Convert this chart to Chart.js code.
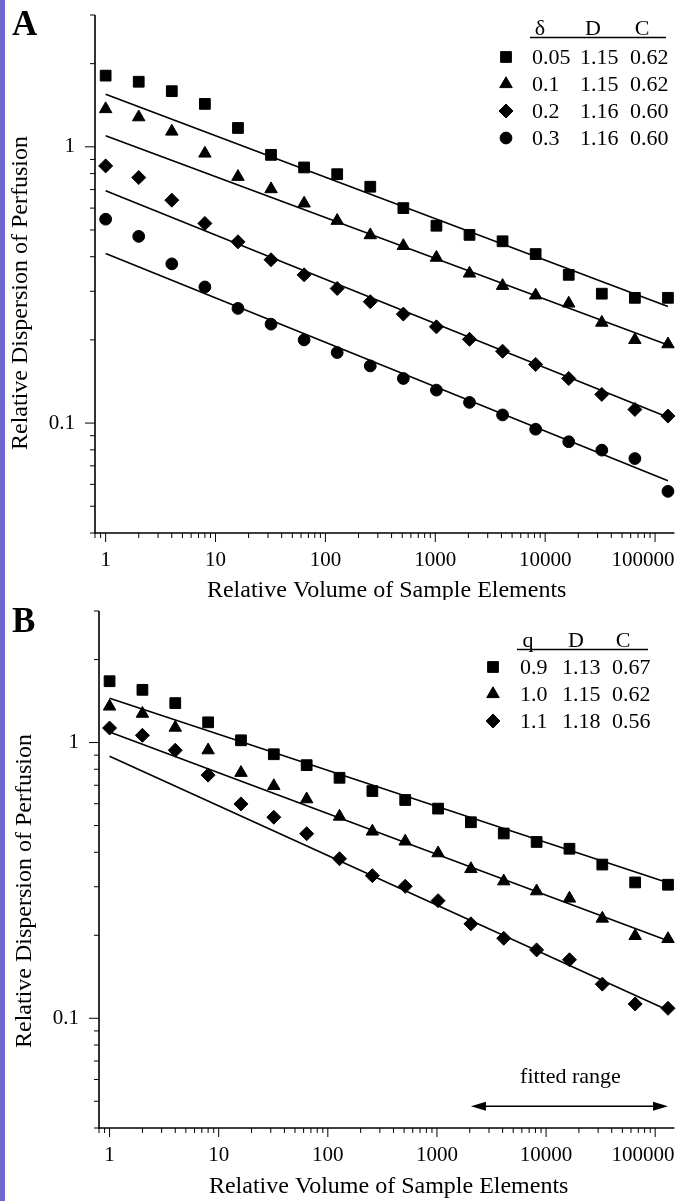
<!DOCTYPE html>
<html>
<head>
<meta charset="utf-8">
<title>Relative dispersion vs. sample volume</title>
<script src="https://cdn.jsdelivr.net/npm/chart.js@4.4.1/dist/chart.umd.min.js"></script>
<style>
  html, body { margin: 0; padding: 0; background: #fff; }
  #page { position: relative; width: 683px; height: 1201px; overflow: hidden; background: #fff; }
  #strip { position: absolute; left: 0; top: 0; width: 5px; height: 1201px; background: #6c68cf; }
  .panel { position: absolute; left: 0; width: 683px; }
  #wrapA { top: 0; height: 600px; }
  #wrapB { top: 600px; height: 601px; }
  canvas { display: block; }
</style>
</head>
<body>
<div id="page">
  <div class="panel" id="wrapA"><canvas id="chartA" width="683" height="600"></canvas></div>
  <div class="panel" id="wrapB"><canvas id="chartB" width="683" height="601"></canvas></div>
  <div id="strip"></div>
</div>
<script>
// ─── data ──────────────────────────────────────────────────────────────────
const volumes = [1, 2, 4, 8, 16, 32, 64, 128, 256, 512, 1024, 2048, 4096, 8192, 16384, 32768, 65536, 131072];

// panel A : δ = 0.05 / 0.1 / 0.2 / 0.3
const aSquare   = [1.81, 1.72, 1.59, 1.43, 1.17, 0.935, 0.842, 0.796, 0.717, 0.600, 0.518, 0.480, 0.455, 0.409, 0.344, 0.294, 0.284, 0.284];
const aTriangle = [1.37, 1.28, 1.136, 0.946, 0.779, 0.703, 0.624, 0.540, 0.479, 0.438, 0.397, 0.348, 0.314, 0.290, 0.271, 0.231, 0.200, 0.193];
const aDiamond  = [0.853, 0.774, 0.641, 0.528, 0.453, 0.390, 0.344, 0.307, 0.275, 0.248, 0.223, 0.201, 0.182, 0.163, 0.145, 0.127, 0.112, 0.106];
const aCircle   = [0.547, 0.474, 0.377, 0.311, 0.260, 0.228, 0.200, 0.180, 0.161, 0.145, 0.1316, 0.1188, 0.107, 0.095, 0.0856, 0.0798, 0.0744, 0.0566];
const aFitStart = [1.55, 1.096, 0.693, 0.411];
const aFitEnd   = [0.264, 0.1915, 0.105, 0.0618];

// panel B : q = 0.9 / 1.0 / 1.1
const bSquare   = [1.669, 1.553, 1.39, 1.184, 1.019, 0.907, 0.828, 0.745, 0.667, 0.619, 0.576, 0.514, 0.468, 0.436, 0.412, 0.361, 0.311, 0.305];
const bTriangle = [1.352, 1.273, 1.133, 0.938, 0.777, 0.696, 0.623, 0.539, 0.476, 0.438, 0.397, 0.348, 0.314, 0.289, 0.272, 0.230, 0.199, 0.194];
const bDiamond  = [1.129, 1.062, 0.938, 0.762, 0.599, 0.536, 0.467, 0.379, 0.329, 0.301, 0.267, 0.220, 0.195, 0.177, 0.163, 0.133, 0.1127, 0.1087];
const bFitStart = [1.449, 1.092, 0.892];
const bFitEnd   = [0.310, 0.191, 0.107];

const fitSpan = [1, 131072];
const fittedRange = [2048, 131072];
const fittedRangeLevel = 0.048;

const xRange = [0.8, 150000];
const yRange = [0.04, 3];
const xMajorTicks = [1, 10, 100, 1000, 10000, 100000];
const yMajorTicks = [0.1, 1];

const tableAHead = ['δ', 'D', 'C'];
const tableARows = [['0.05', '1.15', '0.62'], ['0.1', '1.15', '0.62'], ['0.2', '1.16', '0.60'], ['0.3', '1.16', '0.60']];
const tableBHead = ['q', 'D', 'C'];
const tableBRows = [['0.9', '1.13', '0.67'], ['1.0', '1.15', '0.62'], ['1.1', '1.18', '0.56']];

const xTitle = 'Relative Volume of Sample Elements';
const yTitle = 'Relative Dispersion of Perfusion';

// ─── styling ───────────────────────────────────────────────────────────────
const INK = '#000';
const SERIF = '"Liberation Serif", "Times New Roman", serif';
const MARK = {
  rect:     { pointStyle: 'rect',     radius: 7.6 },
  triangle: { pointStyle: 'triangle', radius: 7.2 },
  rectRot:  { pointStyle: 'rectRot',  radius: 7.0 },
  circle:   { pointStyle: 'circle',   radius: 5.9 },
};

Chart.defaults.font.family = SERIF;
Chart.defaults.color = INK;

// log ticks 1..9 × 10^k within a range
function logTicks(range, majors) {
  const out = [];
  const e0 = Math.floor(Math.log10(range[0]));
  const e1 = Math.ceil(Math.log10(range[1]));
  for (let e = e0; e <= e1; e++) {
    for (let m = 1; m <= 9; m++) {
      const v = parseFloat((m * Math.pow(10, e)).toPrecision(6));
      if (v >= range[0] - 1e-12 && v <= range[1] + 1e-9) out.push({ value: v, major: majors.includes(v) });
    }
  }
  return out;
}

function pointSet(values, mark) {
  return {
    type: 'scatter',
    data: volumes.map((v, i) => ({ x: v, y: values[i] })),
    pointStyle: mark.pointStyle,
    pointRadius: mark.radius,
    pointHoverRadius: mark.radius,
    backgroundColor: INK,
    borderColor: INK,
    borderWidth: 1,
    showLine: false,
    clip: false,
    order: 1,
  };
}

function fitSet(y0, y1) {
  return {
    type: 'line',
    data: [{ x: fitSpan[0], y: y0 }, { x: fitSpan[1], y: y1 }],
    borderColor: INK,
    borderWidth: 1.6,
    pointRadius: 0,
    fill: false,
    tension: 0,
    order: 2,
  };
}

function line(ctx, x0, y0, x1, y1) {
  ctx.beginPath(); ctx.moveTo(x0, y0); ctx.lineTo(x1, y1); ctx.stroke();
}

// axis lines, tick marks, titles, panel letter, parameter table, fitted-range arrow
function makeDecor(L) {
  return {
    id: 'decor',
    beforeDraw(chart) {
      const xs = chart.scales.x;
      const items = xs.getLabelItems(chart.chartArea);
      items.forEach(it => {
        if (it.label === '100000') {
          it.options.textAlign = 'right';
          it.options.translation[0] = xs.right;
        }
      });
    },
    afterDraw(chart) {
      const ctx = chart.ctx, a = chart.chartArea;
      const xs = chart.scales.x, ys = chart.scales.y;
      ctx.save();
      ctx.strokeStyle = INK; ctx.fillStyle = INK;

      ctx.lineWidth = 1.6;
      ctx.beginPath();
      ctx.moveTo(a.left, a.top); ctx.lineTo(a.left, a.bottom); ctx.lineTo(a.right, a.bottom);
      ctx.stroke();

      ctx.lineWidth = 1;
      xs.ticks.forEach(t => {
        const p = xs.getPixelForValue(t.value);
        line(ctx, p, a.bottom, p, a.bottom + (t.major ? 9 : 5));
      });
      ys.ticks.forEach(t => {
        const p = ys.getPixelForValue(t.value);
        line(ctx, a.left, p, a.left - (t.major ? 10 : 5), p);
      });

      ctx.textBaseline = 'alphabetic';
      ctx.font = 'bold 35px ' + SERIF;
      ctx.textAlign = 'left';
      ctx.fillText(L.letter, L.letterX, L.letterY);

      ctx.font = '24px ' + SERIF;
      ctx.textAlign = 'center';
      ctx.fillText(xTitle, (a.left + a.right) / 2 + 2, L.xTitleY);
      ctx.save();
      ctx.translate(L.yTitleX, L.yTitleY);
      ctx.rotate(-Math.PI / 2);
      ctx.fillText(yTitle, 0, 0);
      ctx.restore();

      // parameter table
      const T = L.table;
      ctx.font = '22px ' + SERIF;
      ctx.textAlign = 'center';
      T.head.forEach((h, i) => ctx.fillText(h, T.headX[i], T.headY));
      ctx.lineWidth = 1.5;
      line(ctx, T.lineX0, T.lineY, T.lineX1, T.lineY);
      ctx.textAlign = 'left';
      T.rows.forEach((row, r) => {
        row.forEach((txt, c) => ctx.fillText(txt, T.colX[c], T.rowY[r]));
        const m = T.marks[r];
        ctx.lineWidth = 1;
        Chart.helpers.drawPoint(ctx, { pointStyle: m.pointStyle, radius: m.radius, rotation: 0, borderWidth: 1 },
          T.markX, T.rowY[r] - 7);
      });

      if (L.arrow) {
        const x0 = xs.getPixelForValue(fittedRange[0]);
        const x1 = xs.getPixelForValue(fittedRange[1]);
        const y = ys.getPixelForValue(fittedRangeLevel);
        ctx.lineWidth = 1.5;
        line(ctx, x0 + 4, y, x1 - 4, y);
        [[x0, 1], [x1, -1]].forEach(([x, d]) => {
          ctx.beginPath();
          ctx.moveTo(x, y);
          ctx.lineTo(x + d * 15, y - 4.5);
          ctx.lineTo(x + d * 15, y + 4.5);
          ctx.closePath();
          ctx.fill();
        });
        ctx.font = '22px ' + SERIF;
        ctx.textAlign = 'center';
        ctx.fillText('fitted range', (x0 + x1) / 2 + 1, y - 23);
      }
      ctx.restore();
    },
  };
}

function makeChart(id, H, area, datasets, L) {
  const xTicks = logTicks(xRange, xMajorTicks);
  const yTicks = logTicks(yRange, yMajorTicks);
  return new Chart(document.getElementById(id).getContext('2d'), {
    type: 'scatter',
    data: { datasets },
    options: {
      responsive: false,
      animation: false,
      events: [],
      layout: { padding: { left: 0, top: area.top, right: 683 - area.right, bottom: 0 } },
      plugins: { legend: { display: false }, tooltip: { enabled: false } },
      scales: {
        x: {
          type: 'logarithmic',
          position: 'bottom',
          min: xRange[0], max: xRange[1],
          grid: { display: false, drawTicks: false, tickLength: 0 },
          border: { display: false },
          afterBuildTicks: s => { s.ticks = xTicks.map(t => ({ ...t })); },
          afterFit: s => { s.height = H - area.bottom; s.paddingLeft = 0; s.paddingRight = 0; },
          ticks: {
            autoSkip: false, maxRotation: 0, minRotation: 0, padding: 15,
            color: INK, font: { family: SERIF, size: 21 },
            callback: v => (xMajorTicks.includes(v) ? String(v) : ''),
          },
        },
        y: {
          type: 'logarithmic',
          position: 'left',
          min: yRange[0], max: yRange[1],
          grid: { display: false, drawTicks: false, tickLength: 0 },
          border: { display: false },
          afterBuildTicks: s => { s.ticks = yTicks.map(t => ({ ...t })); },
          afterFit: s => { s.width = area.left; s.paddingTop = 0; s.paddingBottom = 0; },
          ticks: {
            autoSkip: false, padding: 20,
            color: INK, font: { family: SERIF, size: 21 },
            callback: v => (yMajorTicks.includes(v) ? String(v) : ''),
          },
        },
      },
    },
    plugins: [makeDecor(L)],
  });
}

// ─── panel A ───────────────────────────────────────────────────────────────
makeChart('chartA', 600, { left: 95, right: 677, top: 15, bottom: 533 }, [
  pointSet(aSquare, MARK.rect),
  pointSet(aTriangle, MARK.triangle),
  pointSet(aDiamond, MARK.rectRot),
  pointSet(aCircle, MARK.circle),
  fitSet(aFitStart[0], aFitEnd[0]),
  fitSet(aFitStart[1], aFitEnd[1]),
  fitSet(aFitStart[2], aFitEnd[2]),
  fitSet(aFitStart[3], aFitEnd[3]),
], {
  letter: 'A', letterX: 12, letterY: 35,
  yTitleX: 27, yTitleY: 293, xTitleY: 597,
  table: {
    head: tableAHead, rows: tableARows,
    headX: [540, 593, 642], headY: 35,
    lineX0: 530, lineX1: 666, lineY: 37.5,
    colX: [532, 580, 630], rowY: [64, 91, 118, 145],
    markX: 506, marks: [MARK.rect, MARK.triangle, MARK.rectRot, MARK.circle],
  },
  arrow: false,
});

// ─── panel B ───────────────────────────────────────────────────────────────
makeChart('chartB', 601, { left: 99, right: 681, top: 11, bottom: 528 }, [
  pointSet(bSquare, MARK.rect),
  pointSet(bTriangle, MARK.triangle),
  pointSet(bDiamond, MARK.rectRot),
  fitSet(bFitStart[0], bFitEnd[0]),
  fitSet(bFitStart[1], bFitEnd[1]),
  fitSet(bFitStart[2], bFitEnd[2]),
], {
  letter: 'B', letterX: 12, letterY: 32,
  yTitleX: 31, yTitleY: 291, xTitleY: 593,
  table: {
    head: tableBHead, rows: tableBRows,
    headX: [528, 576, 623], headY: 47,
    lineX0: 517, lineX1: 648, lineY: 49.5,
    colX: [520, 562, 612], rowY: [74, 101, 128],
    markX: 493, marks: [MARK.rect, MARK.triangle, MARK.rectRot],
  },
  arrow: true,
});
</script>
</body>
</html>
